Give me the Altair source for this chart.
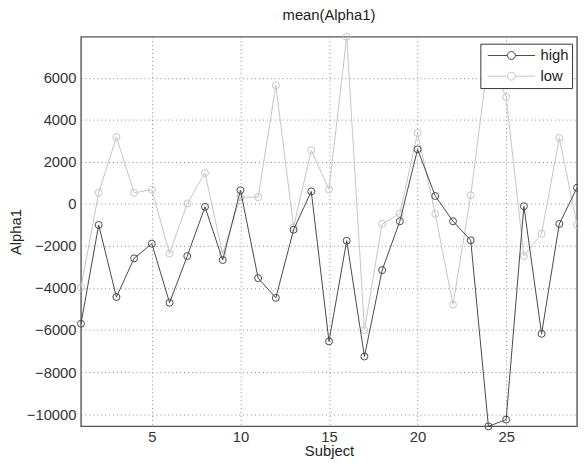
import altair as alt
import pandas as pd

subjects = list(range(1, 30))
high = [-5700, -1000, -4430, -2590, -1890, -4700, -2480, -140, -2670, 650,
        -3530, -4470, -1230, 595, -6540, -1750, -7260, -3150, -825, 2595,
        375, -825, -1730, -10580, -10260, -110, -6180, -950, 770]
low = [-3980, 530, 3185, 530, 675, -2360, 20, 1470, -2400, 320,
       320, 5640, -1100, 2550, 690, 7950, -6000, -950, -460, 3370,
       -480, -4790, 410, 6950, 5090, -2480, -1420, 3140, -1000]
series_names = ["high", "low"]
series_colors = ["#474747", "#c4c4c4"]
y_ticks = [-10000, -8000, -6000, -4000, -2000, 0, 2000, 4000, 6000]
x_ticks = [5, 10, 15, 20, 25]

rows = []
for s, vals in zip(series_names, [high, low]):
    for x, v in zip(subjects, vals):
        rows.append({"Subject": x, "Alpha1": v, "series": s})
df = pd.DataFrame(rows)

ymin = min(high + low)
ymax = max(high + low)
FONT = "Liberation Sans"
W, H = 503, 395

legend_symbol = ("M-0.857,0L-0.143,0M0.143,0L0.857,0"
                 "M0.143,0A0.143,0.143 0 1,1 -0.143,0A0.143,0.143 0 1,1 0.143,0")

x_scale = alt.Scale(domain=[1, 29], nice=False, zero=False)
y_scale = alt.Scale(domain=[ymin, ymax], nice=False, zero=False)

x_main = alt.X("Subject:Q", title="Subject", scale=x_scale,
               axis=alt.Axis(values=x_ticks, grid=True, ticks=False, domain=False,
                             format="d", labelPadding=3,
                             titleY=33, titleBaseline="bottom"))
y_main = alt.Y("Alpha1:Q", title="Alpha1", scale=y_scale,
               axis=alt.Axis(values=y_ticks, grid=True, ticks=False, domain=False,
                             format="d", labelPadding=5,
                             titleX=-66, titleY=H / 2, titleAngle=270,
                             titleBaseline="middle", titleAlign="center"))
c_enc = alt.Color("series:N", title=None,
                  scale=alt.Scale(domain=series_names, range=series_colors),
                  legend=alt.Legend(orient="none", legendX=405, legendY=7,
                                    symbolType=legend_symbol, symbolSize=3136,
                                    symbolStrokeWidth=1, clipHeight=18,
                                    rowPadding=3, labelOffset=1, padding=3,
                                    labelExpr="datum.label + '\u00a0'",
                                    strokeColor="#333333", fillColor="white",
                                    labelFont=FONT, labelFontSize=15,
                                    labelColor="#222222"))

layers = []
for s in ["low", "high"]:
    base = alt.Chart(df).transform_filter(alt.datum.series == s).encode(
        x=x_main, y=y_main, color=c_enc)
    layers.append(base.mark_line(strokeWidth=1))
    layers.append(base.mark_point(shape="circle", filled=False, size=50,
                                  strokeWidth=1, opacity=1))

chart = alt.layer(*layers).properties(
    width=W, height=H,
    title=alt.TitleParams("mean(Alpha1)", font=FONT, fontSize=15,
                          fontWeight="normal", color="#222222", offset=8),
    autosize=alt.AutoSizeParams(type="none"),
    padding={"left": 74, "top": 26, "right": 1, "bottom": 33},
).configure_view(
    stroke="#555555", strokeWidth=1.4
).configure_axis(
    labelFont=FONT, labelFontSize=15, labelColor="#333333",
    titleFont=FONT, titleFontSize=15, titleFontWeight="normal", titleColor="#222222",
    gridColor="#8a8a8a", gridDash=[1, 3], gridWidth=1, gridOpacity=1
)

chart.save("out.html", embed_options={"renderer": "svg", "actions": False})
